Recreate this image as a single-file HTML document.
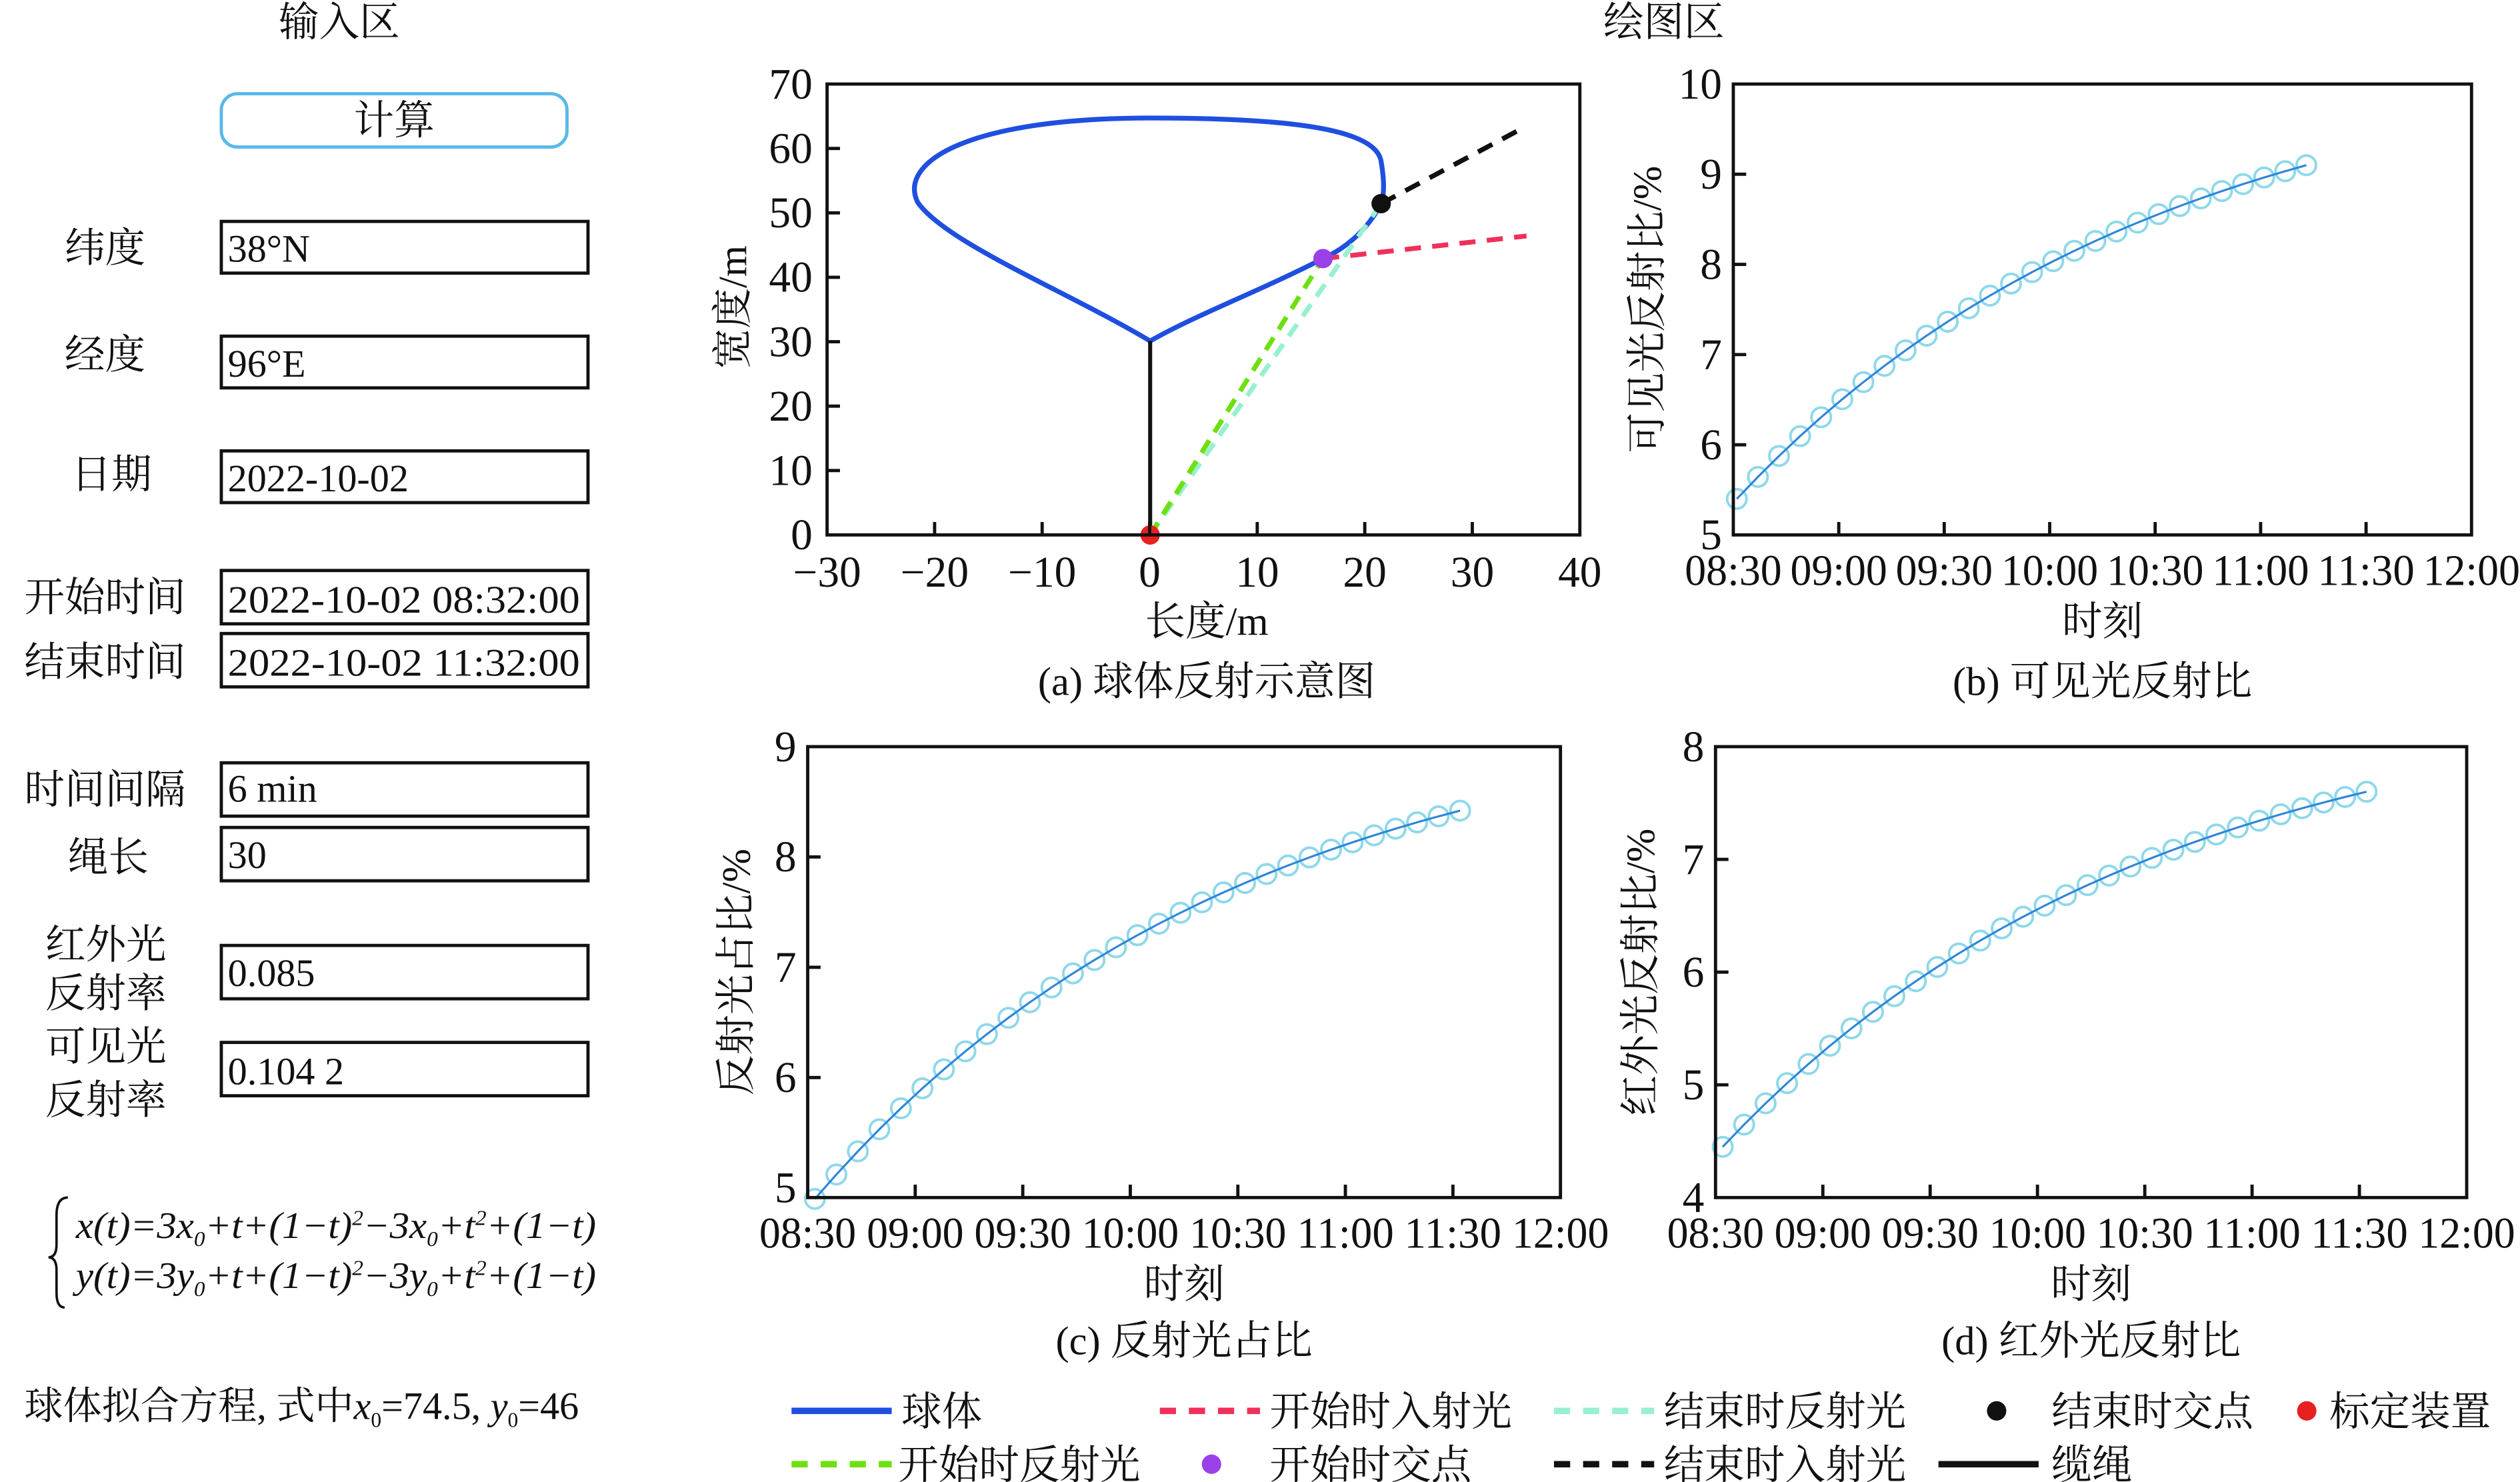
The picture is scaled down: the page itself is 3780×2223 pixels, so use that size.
<!DOCTYPE html>
<html><head><meta charset="utf-8"><style>
html,body{margin:0;padding:0;background:#fff;}
svg{display:block;}
text{font-family:"Liberation Serif","Noto Serif CJK SC",serif;fill:#111;}
</style></head><body>
<svg id="s" width="3780" height="2223" viewBox="0 0 1560 917" preserveAspectRatio="none" xmlns="http://www.w3.org/2000/svg">
<rect width="1560" height="917" fill="#fff"/>
<g font-size="25">
<text x="210" y="22" text-anchor="middle">输入区</text>
<rect x="137" y="58" width="214" height="33" rx="10" fill="none" stroke="#5bb8e8" stroke-width="2"/>
<text x="244" y="83" text-anchor="middle">计算</text>
<text x="40" y="162">纬度</text>
<text x="40" y="228">经度</text>
<text x="44" y="302">日期</text>
<text x="15" y="378">开始时间</text>
<text x="15" y="418">结束时间</text>
<text x="15" y="497">时间间隔</text>
<text x="42" y="539">绳长</text>
<text x="28" y="593">红外光</text>
<text x="28" y="623">反射率</text>
<text x="28" y="656">可见光</text>
<text x="28" y="689">反射率</text>
</g>
<g fill="none" stroke="#111" stroke-width="2">
<rect x="137" y="137" width="227" height="32"/>
<rect x="137" y="208" width="227" height="32"/>
<rect x="137" y="279" width="227" height="32"/>
<rect x="137" y="353" width="227" height="33"/>
<rect x="137" y="392" width="227" height="33"/>
<rect x="137" y="472" width="227" height="33"/>
<rect x="137" y="512" width="227" height="33"/>
<rect x="137" y="585" width="227" height="33"/>
<rect x="137" y="645" width="227" height="33"/>
</g>
<g font-size="24">
<text x="141" y="162">38°N</text>
<text x="141" y="233">96°E</text>
<text x="141" y="304">2022-10-02</text>
<text x="141" y="379" textLength="218" lengthAdjust="spacingAndGlyphs">2022-10-02 08:32:00</text>
<text x="141" y="418" textLength="218" lengthAdjust="spacingAndGlyphs">2022-10-02 11:32:00</text>
<text x="141" y="496">6 min</text>
<text x="141" y="537">30</text>
<text x="141" y="610">0.085</text>
<text x="141" y="671">0.104 2</text>
</g>
<path d="M42,741 Q35,741 35,752 L35,770 Q35,778 30,778 Q35,778 35,786 L35,800 Q35,809 40,809" fill="none" stroke="#111" stroke-width="1.5"/>
<g font-size="23" font-style="italic">
<text x="47" y="766" textLength="322" lengthAdjust="spacingAndGlyphs">x(t)=3x<tspan font-size="13" dy="5">0</tspan><tspan dy="-5">+t+(1−t)</tspan><tspan font-size="13" dy="-8">2</tspan><tspan dy="8">−3x</tspan><tspan font-size="13" dy="5">0</tspan><tspan dy="-5">+t</tspan><tspan font-size="13" dy="-8">2</tspan><tspan dy="8">+(1−t)</tspan></text>
<text x="47" y="797" textLength="322" lengthAdjust="spacingAndGlyphs">y(t)=3y<tspan font-size="13" dy="5">0</tspan><tspan dy="-5">+t+(1−t)</tspan><tspan font-size="13" dy="-8">2</tspan><tspan dy="8">−3y</tspan><tspan font-size="13" dy="5">0</tspan><tspan dy="-5">+t</tspan><tspan font-size="13" dy="-8">2</tspan><tspan dy="8">+(1−t)</tspan></text>
</g>
<text x="15" y="878" font-size="24">球体拟合方程, 式中<tspan font-style="italic">x</tspan><tspan font-size="13" dy="5">0</tspan><tspan dy="-5">=74.5, </tspan><tspan font-style="italic">y</tspan><tspan font-size="13" dy="5">0</tspan><tspan dy="-5">=46</tspan></text>

<text x="1030" y="22" font-size="25" text-anchor="middle">绘图区</text>

<g id="pa">
<path d="M712,211 C660,180 585,150 568,125 C556,100 600,73 712,73 C800,73 852,80 855,100 C857,112 857,120 855,126 C845,145 830,155 819,160 C780,180 740,195 712,211 Z" fill="none" stroke="#1f4fe0" stroke-width="3"/>
<line x1="712" y1="211" x2="712" y2="331" stroke="#111" stroke-width="2.5"/>
<line x1="712" y1="331" x2="855" y2="126" stroke="#99f0d0" stroke-width="3" stroke-dasharray="9,6"/>
<line x1="712" y1="331" x2="819" y2="160" stroke="#6ee010" stroke-width="3" stroke-dasharray="9,6"/>
<line x1="819" y1="160" x2="945" y2="146" stroke="#f0305a" stroke-width="3" stroke-dasharray="10,7"/>
<line x1="855" y1="126" x2="945" y2="78" stroke="#111" stroke-width="3" stroke-dasharray="10,7"/>
<circle cx="855" cy="126" r="6" fill="#111"/>
<circle cx="819" cy="160" r="6" fill="#9a40e8"/>
<circle cx="712" cy="331" r="6" fill="#e82020"/>
<rect x="512" y="52" width="466" height="279" fill="none" stroke="#111" stroke-width="2"/>
</g>
<g id="dyn"></g>
<g font-size="25">
<line x1="490" y1="873" x2="552" y2="873" stroke="#1f4fe0" stroke-width="4"/>
<text x="558" y="882">球体</text>
<line x1="718" y1="873" x2="780" y2="873" stroke="#f0305a" stroke-width="4" stroke-dasharray="10,8"/>
<text x="786" y="882">开始时入射光</text>
<line x1="962" y1="873" x2="1024" y2="873" stroke="#99f0d0" stroke-width="4" stroke-dasharray="10,8"/>
<text x="1030" y="882">结束时反射光</text>
<circle cx="1236" cy="873" r="6" fill="#111"/>
<text x="1270" y="882">结束时交点</text>
<circle cx="1428" cy="873" r="6" fill="#e82020"/>
<text x="1442" y="882">标定装置</text>
<line x1="490" y1="906" x2="552" y2="906" stroke="#6ee010" stroke-width="4" stroke-dasharray="10,8"/>
<text x="556" y="915">开始时反射光</text>
<circle cx="750" cy="906" r="6" fill="#9a40e8"/>
<text x="786" y="915">开始时交点</text>
<line x1="962" y1="906" x2="1024" y2="906" stroke="#111" stroke-width="4" stroke-dasharray="10,8"/>
<text x="1030" y="915">结束时入射光</text>
<line x1="1200" y1="906" x2="1262" y2="906" stroke="#111" stroke-width="4"/>
<text x="1270" y="915">缆绳</text>
</g>
</svg>
<script>
var NS="http://www.w3.org/2000/svg",g=document.getElementById("dyn");
function el(t,a,txt){var e=document.createElementNS(NS,t);for(var k in a)e.setAttribute(k,a[k]);if(txt!==undefined)e.textContent=txt;g.appendChild(e);return e;}
function txt(x,y,s,anchor,fs,rot,tl){var a={x:x,y:y,"font-size":fs||25,"text-anchor":anchor||"middle"};if(rot)a.transform="rotate(-90 "+x+" "+y+")";if(tl){a.textLength=tl;a.lengthAdjust="spacingAndGlyphs";}el("text",a,s);}
(function(){var L=512,R=978,T=52,B=331;
for(var v=-30;v<=40;v+=10){var x=L+(v+30)*466/70;if(v>-30&&v<40)el("line",{x1:x,y1:B,x2:x,y2:B-8,stroke:"#111","stroke-width":2});txt(x,363,(v<0?"−":"")+Math.abs(v),"middle",27);}
for(var v=0;v<=70;v+=10){var y=B-v*279/70;if(v>0&&v<70)el("line",{x1:L,y1:y,x2:L+8,y2:y,stroke:"#111","stroke-width":2});txt(503,y+9,""+v,"end",27);}
txt(747,393,"长度/m","middle",25);txt(462,190,"宽度/m","middle",25,true);txt(747,430,"(a) 球体反射示意图","middle",25);
})();
var labs=["08:30","09:00","09:30","10:00","10:30","11:00","11:30","12:00"];
function plot(L,R,T,B,ymin,ymax,y0px,ylab,cap,xl,startMin,n,v0,v1,tau,capY){
 var per=(R-L)/210;
 for(var i=0;i<8;i++){var x=L+i*30*per;if(i>0&&i<7)el("line",{x1:x,y1:B,x2:x,y2:B-8,stroke:"#111","stroke-width":2});txt(x,B+31,labs[i],"middle",27,false,60);}
 var pu=(y0px-T)/(ymax-ymin);
 for(var v=ymin;v<=ymax;v++){var y=y0px-(v-ymin)*pu;if(v>ymin&&v<ymax)el("line",{x1:L,y1:y,x2:L+8,y2:y,stroke:"#111","stroke-width":2});txt(L-7,y+9,""+v,"end",27);}
 var tE=(n-1)*6/60,den=1-Math.exp(-tE/tau),pts=[];
 for(var k=0;k<n;k++){var t=k*6/60,gg=(1-Math.exp(-t/tau))/den,v=v0+(v1-v0)*gg;pts.push([L+(startMin+k*6)*per,y0px-(v-ymin)*pu]);}
 for(var k=0;k<n;k++)el("circle",{cx:pts[k][0],cy:pts[k][1],r:6,fill:"none",stroke:"#8fd8ea","stroke-width":1.6});
 el("polyline",{points:pts.map(function(p){return p.join(",")}).join(" "),fill:"none",stroke:"#2e86d8","stroke-width":1.3});
 el("rect",{x:L,y:T,width:R-L,height:B-T,fill:"none",stroke:"#111","stroke-width":2});
 txt((L+R)/2,B+62,"时刻","middle",25);txt(xl,(T+B)/2,ylab,"middle",25,true);txt((L+R)/2,capY,cap,"middle",25);
}
plot(1073,1530,52,331,5,10,331,"可见光反射比/%","(b) 可见光反射比",1028,1,28,5.4,9.1,2,430);
plot(500,966,462,741,5,9,735,"反射光占比/%","(c) 反射光占比",464,2,31,4.9,8.42,2,838);
plot(1062,1527,462,741,4,8,741,"红外光反射比/%","(d) 红外光反射比",1024,2,31,4.45,7.6,2,838);
</script>
</body></html>
